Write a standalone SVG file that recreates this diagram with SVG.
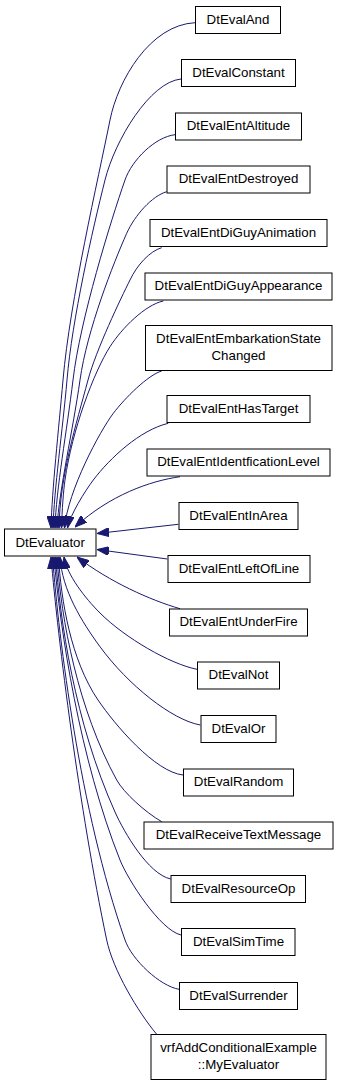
<svg xmlns="http://www.w3.org/2000/svg" width="339" height="1085" viewBox="0 0 339 1085">
<style>
.n rect{fill:#fff;stroke:#000;stroke-width:1}
.n text{font-family:"Liberation Sans",Arial,Helvetica,sans-serif;font-size:13.3px;text-anchor:middle;fill:#000}
.e path{fill:none;stroke:#191970;stroke-width:1;marker-end:url(#ah)}
</style>
<defs>
<marker id="ah" viewBox="0 0 12 9" refX="12" refY="4.5" markerWidth="12" markerHeight="9" markerUnits="userSpaceOnUse" orient="auto">
<path d="M0,0 L12,4.5 L0,9 z" fill="#191970" stroke="#191970" stroke-width="1"/>
</marker>
</defs>
<rect width="339" height="1085" fill="#fff"/>
<g id="edges" class="e">
<path d="M195,22.7 C150,25 118,80 110,120 C98,180 70,300 63,380 C58.6,430 52,490 51,528"/>
<path d="M181,79 C150,82 115,140 105,180 C92.5,230 72,320 67,380 C62.6,430 54,490 53,528"/>
<path d="M175,134.7 C155,137 132,160 125,180 C111,220 80,320 73,380 C67,430 56,490 55,528"/>
<path d="M166.7,191.7 C152,196 135,215 126.7,233.3 C113.5,263 87,330 80,380 C73,430 59,490 57,528"/>
<path d="M161.7,247.7 C150,251 137,265 130,280 C121,298 96,350 88,380 C76,425 60,475 59,528"/>
<path d="M163.3,301 C145,305 122,328 110,346.7 C94,371.7 72,430 65,480 C63.5,490 62,510 61.5,528"/>
<path d="M161.7,371 C148,375 125,398 113.3,413.3 C100,431 68,490 64.5,528"/>
<path d="M168.3,423.3 C140,430 110,458 93.3,480 C85,491 70,515 67.5,528"/>
<path d="M180,476.7 C150,481 110,495 75,527"/>
<path d="M178.3,524.3 L97,533.5"/>
<path d="M167.3,559 L97,549.5"/>
<path d="M180,608.7 C150,600 110,582 77,557"/>
<path d="M197,669.3 C170,664 125,638 100,613 C85,598 67,575 64,557"/>
<path d="M200.3,725 C172,720 128,685 100,646.7 C81.7,621.7 62,590 60,557"/>
<path d="M183,775 C155,772 115,725 98,700 C70.8,660 61,600 58.5,557"/>
<path d="M161.7,821.7 C145,812 124,793 116.7,780 C78.2,710 61,620 57,557"/>
<path d="M170.7,879 C148,874 124,832 115,812 C74.5,722 60,620 55.5,557"/>
<path d="M181,935 C160,930 128,880 120,860 C80,760 60,630 54,557"/>
<path d="M179,989.3 C160,986 132,960 125,940 C79.5,810 59,640 52.5,557"/>
<path d="M156.7,1034.3 C138,1012 113,970 106.7,940 C79.4,810 58,640 51,557"/>
</g>
<g id="DtEvaluator" class="n"><rect x="4.5" y="529" width="91.5" height="27"/><text x="50.2" y="546.5">DtEvaluator</text></g>
<g id="DtEvalAnd" class="n"><rect x="195.5" y="6.5" width="85" height="27"/><text x="238" y="23.5">DtEvalAnd</text></g>
<g id="DtEvalConstant" class="n"><rect x="181.5" y="59.5" width="114" height="27"/><text x="238.5" y="76.5">DtEvalConstant</text></g>
<g id="DtEvalEntAltitude" class="n"><rect x="175.5" y="113" width="126" height="27"/><text x="238.5" y="130">DtEvalEntAltitude</text></g>
<g id="DtEvalEntDestroyed" class="n"><rect x="167" y="166" width="143" height="27"/><text x="238.5" y="183">DtEvalEntDestroyed</text></g>
<g id="DtEvalEntDiGuyAnimation" class="n"><rect x="150" y="219.5" width="177" height="27"/><text x="238.5" y="236.5">DtEvalEntDiGuyAnimation</text></g>
<g id="DtEvalEntDiGuyAppearance" class="n"><rect x="145" y="273" width="187" height="27"/><text x="238.5" y="290">DtEvalEntDiGuyAppearance</text></g>
<g id="DtEvalEntEmbarkationStateChanged" class="n"><rect x="145.5" y="325.5" width="186.5" height="45"/><text x="238.5" y="343">DtEvalEntEmbarkationState</text><text x="238.5" y="360">Changed</text></g>
<g id="DtEvalEntHasTarget" class="n"><rect x="167" y="395.5" width="143" height="27"/><text x="238.5" y="412.5">DtEvalEntHasTarget</text></g>
<g id="DtEvalEntIdentficationLevel" class="n"><rect x="147" y="449" width="183" height="27"/><text x="238.5" y="466">DtEvalEntIdentficationLevel</text></g>
<g id="DtEvalEntInArea" class="n"><rect x="179" y="502.5" width="119" height="27"/><text x="238.5" y="519.5">DtEvalEntInArea</text></g>
<g id="DtEvalEntLeftOfLine" class="n"><rect x="168" y="555.5" width="142" height="27"/><text x="239" y="572.5">DtEvalEntLeftOfLine</text></g>
<g id="DtEvalEntUnderFire" class="n"><rect x="169.5" y="609" width="138" height="27"/><text x="238.5" y="626">DtEvalEntUnderFire</text></g>
<g id="DtEvalNot" class="n"><rect x="197.5" y="662" width="82" height="27"/><text x="238.5" y="679">DtEvalNot</text></g>
<g id="DtEvalOr" class="n"><rect x="201" y="715.5" width="75" height="27"/><text x="238.5" y="732.5">DtEvalOr</text></g>
<g id="DtEvalRandom" class="n"><rect x="183.5" y="769" width="110" height="27"/><text x="238.5" y="786">DtEvalRandom</text></g>
<g id="DtEvalReceiveTextMessage" class="n"><rect x="144" y="822" width="189" height="27"/><text x="238.5" y="839">DtEvalReceiveTextMessage</text></g>
<g id="DtEvalResourceOp" class="n"><rect x="171" y="875.5" width="134.5" height="27"/><text x="238.5" y="892.5">DtEvalResourceOp</text></g>
<g id="DtEvalSimTime" class="n"><rect x="181.5" y="928.5" width="113.5" height="27"/><text x="238.5" y="945.5">DtEvalSimTime</text></g>
<g id="DtEvalSurrender" class="n"><rect x="179.5" y="982.5" width="118" height="27"/><text x="238.5" y="999.5">DtEvalSurrender</text></g>
<g id="vrfAddConditionalExample_MyEvaluator" class="n"><rect x="151" y="1034.5" width="175" height="45"/><text x="238.5" y="1052">vrfAddConditionalExample</text><text x="238.5" y="1069">::MyEvaluator</text></g>
</svg>
